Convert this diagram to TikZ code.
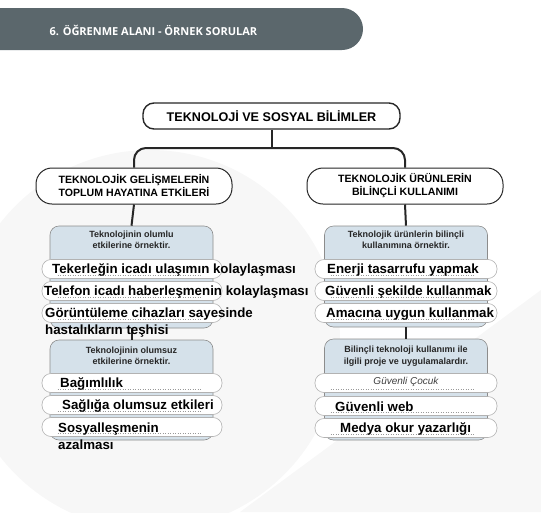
\documentclass[tikz,border=0pt]{standalone}
\usepackage{fontspec}
\setmainfont{Liberation Sans}
\newfontfamily\headfont{Open Sans}
\usepackage{tikz}
\usetikzlibrary{positioning}

\definecolor{bandgray}{HTML}{5B676C}
\definecolor{boxblue}{HTML}{D5E1EA}

\begin{document}
\begin{tikzpicture}[x=1pt, y=-1pt,
        topbox/.style={rectangle, rounded corners=11pt, draw=black!85, line width=1.4pt, fill=white, minimum width=257pt, minimum height=26pt, font=\bfseries\fontsize{12.6}{15}\selectfont},
        topic/.style={rectangle, rounded corners=16pt, draw=black!85, line width=1pt, fill=white, minimum width=196pt, minimum height=36pt, align=center, font=\bfseries\fontsize{10.6}{13}\selectfont},
        group/.style={rectangle, rounded corners=9pt, draw=black!45, line width=0.6pt, fill=boxblue, minimum width=163pt},
        note/.style={align=center, inner sep=0pt, text=black!85, font=\bfseries\fontsize{9}{11.5}\selectfont},
        pill/.style={rectangle, rounded corners=9pt, draw=black!30, line width=0.6pt, fill=white, minimum width=180pt, minimum height=19pt},
        item/.style={anchor=base west, align=left, inner sep=0pt, font=\bfseries\fontsize{13.3}{17.5}\selectfont},
        link/.style={line width=2pt, black!85},
        blank/.style={dotted, black!40, line width=0.5pt}
      ]
        \useasboundingbox (0,0) rectangle (541,512);
        \clip (0,0) rectangle (541,512);

        % faint background
        \fill[black!3] (150,340) circle (190);
        \fill[black!3] (541,290) -- (541,512) -- (240,512) -- cycle;

        % chapter band
        \fill[bandgray, rounded corners=21pt] (-30,8) rectangle (363,50);
        \node[anchor=west, text=white, font=\headfont\bfseries\fontsize{11}{13}\selectfont] (chapter) at (46,30) {6. ÖĞRENME ALANI - ÖRNEK SORULAR};

        % tree
        \node[topbox]  (top)    at (271.5,116)   {TEKNOLOJİ VE SOSYAL BİLİMLER};
        \node[topic]   (effects) at (134,186)    {TEKNOLOJİK GELİŞMELERİN\\TOPLUM HAYATINA ETKİLERİ};
        \node[topic]   (usage)  at (405,186)     {TEKNOLOJİK ÜRÜNLERİN\\BİLİNÇLİ KULLANIMI};
        \coordinate    (fork)   at (271.5,148);

        \node[group, minimum height=102pt]  (positive) at (131.5,277)  {};
        \node[group, minimum height=100pt]  (negative) at (131.5,390)  {};
        \node[group, minimum height=101pt]  (conscious) at (406,276.5) {};
        \node[group, minimum height=101pt]  (projects) at (406,389.5)  {};

        \draw[link] (top.south) -- (fork);
        \draw[link, rounded corners=12pt] (effects.north) |- (fork) -| (usage.north);
        \draw[link] (effects.south) -- (positive.north);
        \draw[link] (usage.south) -- (conscious.north);
        \draw[link] (positive.south) -- (negative.north);
        \draw[link] (conscious.south) -- (projects.north);

        \node[note] (positivenote)  at (131.5,240) {Teknolojinin olumlu\\etkilerine örnektir.};
        \node[note] (negativenote)  at (131.5,356) {Teknolojinin olumsuz\\etkilerine örnektir.};
        \node[note] (consciousnote) at (406,240)   {Teknolojik ürünlerin bilinçli\\kullanımına örnektir.};
        \node[note] (projectsnote)  at (406,356)   {Bilinçli teknoloji kullanımı ile\\ilgili proje ve uygulamalardır.};

        % answer slots, left
        \node[pill] (pos1) at (132,269) {};
        \node[pill] (pos2) [below of=pos1, node distance=22pt] {};
        \node[pill] (pos3) [below of=pos2, node distance=22pt] {};
        \node[pill] (neg1) at (132,383) {};
        \node[pill] (neg2) [below of=neg1, node distance=22pt] {};
        \node[pill] (neg3) [below of=neg2, node distance=22pt] {};
        % answer slots, right
        \node[pill, minimum width=182pt] (use1) at (406,269) {};
        \node[pill, minimum width=182pt] (use2) [below of=use1, node distance=22pt] {};
        \node[pill, minimum width=182pt] (use3) [below of=use2, node distance=22pt] {};
        \node[pill, minimum width=182pt] (pro1) at (406,383) {};
        \node[pill, minimum width=182pt] (pro2) [below of=pro1, node distance=23pt] {};
        \node[pill, minimum width=182pt] (pro3) [below of=pro2, node distance=22pt] {};

        \foreach \slot in {pos1,pos2,pos3,neg1,neg2,neg3,use1,use2,use3,pro1,pro2,pro3}
          \draw[blank] ([xshift=16pt, yshift=-6pt]\slot.west) -- ([xshift=-22pt, yshift=-6pt]\slot.east);

        % answers (two-line ones sit on their last baseline)
        \node[item] (ans1) at (52,273.7)  {Tekerleğin icadı ulaşımın kolaylaşması};
        \node[item] (ans2) at (44,295.7)  {Telefon icadı haberleşmenin kolaylaşması};
        \node[item] (ans3) at (45,334.7)  {Görüntüleme cihazları sayesinde\\hastalıkların teşhisi};
        \node[item] (ans4) at (60,387.7)  {Bağımlılık};
        \node[item] (ans5) at (62,409.7)  {Sağlığa olumsuz etkileri};
        \node[item] (ans6) at (58,449.7)  {Sosyalleşmenin\\azalması};
        \node[item] (ans7) at (327,273.7) {Enerji tasarrufu yapmak};
        \node[item] (ans8) at (325,295.7) {Güvenli şekilde kullanmak};
        \node[item] (ans9) at (326,317.7) {Amacına uygun kullanmak};
        \node[font=\rmfamily\itshape\fontsize{10}{12}\selectfont, text=black!75] (ans10) at (406,382) {Güvenli Çocuk};
        \node[item] (ans11) at (335,411.7) {Güvenli web};
        \node[item] (ans12) at (340,432.7) {Medya okur yazarlığı};
      \end{tikzpicture}
\end{document}
